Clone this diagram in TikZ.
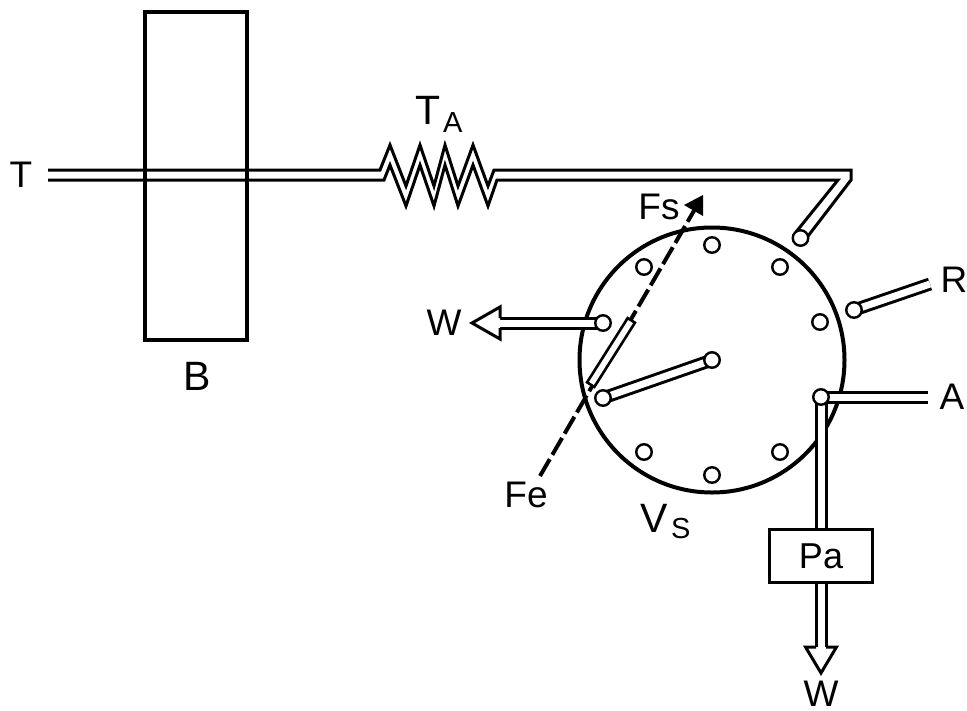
\documentclass[tikz,border=0pt]{standalone}
\usepackage{fontspec}
\setmainfont{Liberation Sans}
\pgfdeclarelayer{under}
\pgfsetlayers{under,main}
\tikzset{
  x=1pt,y=-1pt,
  wall/.style={line width=3pt,line join=miter},
  tube/.style={line width=3pt,double=white,double distance=7pt,line cap=butt},
  head/.style={line width=3pt,fill=white,line join=miter},
  port/.style={circle,draw,fill=white,line width=2.4pt,minimum size=15.5pt,inner sep=0pt},
  lbl/.style={font=\fontsize{37}{37}\selectfont,inner sep=0pt},
  big/.style={font=\fontsize{41}{41}\selectfont,inner sep=0pt},
  subs/.style={font=\fontsize{29}{29}\selectfont,inner sep=0pt},
}
\begin{document}
\begin{tikzpicture}
\useasboundingbox (0,0) rectangle (967,710);
% ports
\node[port] (p1) at (712,245) {};
\node[port] (p2) at (644,267) {};
\node[port] (p3) at (780,267) {};
\node[port] (p4) at (820,322) {};
\node[port] (p6) at (780,452) {};
\node[port] (p7) at (712,475) {};
\node[port] (p8) at (644,452) {};
\node[port] (in) at (800.5,238) {};
\node[port] (r) at (854,310) {};
\node[port] (c) at (712,360) {};
\node[port] (s) at (603,398) {};
\node[port] (w) at (603,323) {};
\node[port] (a) at (821,397) {};
% coordinates
\coordinate (Tu) at (48,170);
\coordinate (Tl) at (48,180);
\coordinate (cu) at (851,170);
\coordinate (cr) at (851,180);
\coordinate (cl) at (838,180);
\coordinate (eu) at (805,240);
\coordinate (el) at (796,232);
\coordinate (Rend) at (930,284);
\coordinate (Aend) at (928,397);
\coordinate (Wa) at (500,323);
\coordinate (Wb) at (821,648);
\coordinate (Fe0) at (540,476);
\coordinate (Fs0) at (695,209);
% Pa and slide
\node[draw,fill=white,line width=3pt,minimum width=103pt,minimum height=53pt,inner sep=0pt,font=\fontsize{36}{36}\selectfont] (Pa) at (821,556) {Pa};
\node[draw,fill=white,line width=2.6pt,rotate=57.7,minimum width=76pt,minimum height=8.6pt,inner sep=0pt] (slide) at (611,352.5) {};
% arrowheads
\fill (703,195) -- (684,205) -- (703,216) -- cycle;
\draw[head] (500,318) -- (500,307) -- (472,323) -- (500,339) -- (500,328);
\draw[head] (816,647) -- (805.5,647) -- (821,673) -- (836.5,647) -- (826,647);
% things lying under the nodes
\begin{pgfonlayer}{under}
\node[circle,draw,line width=4pt,minimum size=265pt,inner sep=0pt] (wheel) at (712,360) {};
\node[draw,line width=4pt,minimum width=102pt,minimum height=328pt,inner sep=0pt] (B) at (196,175.5) {};
\draw[wall] (Tu) -- (380,170) -- (390,145) -- (406,186) -- (420,145) -- (434,186) -- (445,145) -- (458,186) -- (473,145) -- (488,186) -- (494,170) -- (cu) -- (cr) -- (eu);
\draw[wall] (Tl) -- (384,180) -- (390,165) -- (406,206) -- (420,165) -- (434,206) -- (445,165) -- (458,206) -- (473,165) -- (488,206) -- (497,180) -- (cl) -- (el);
\draw[line width=4pt,dash pattern=on 19.5pt off 5pt] (Fe0) -- (Fs0);
\draw[tube] (r.center) -- (Rend);
\draw[tube] (s.center) -- (c.center);
\draw[tube] (w.center) -- (Wa);
\draw[tube] (a.center) -- (Aend);
\draw[tube] (a.center) -- (Pa.north);
\draw[tube] (Pa.south) -- (Wb);
\end{pgfonlayer}
% labels
\node[lbl] (tT) at (21,175) {T};
\node[big] (tB) at (197,376) {B};
\node[big,anchor=base west] (tTA) at (415,124) {T};
\node[subs,anchor=base west] (tTAs) at (443,132) {A};
\node[lbl] (tFs) at (659,207) {Fs};
\node[lbl] (tFe) at (526,495) {Fe};
\node[lbl] (tW1) at (444,323) {W};
\node[lbl] (tW2) at (821,694) {W};
\node[lbl] (tR) at (954,280) {R};
\node[lbl] (tA) at (952,397) {A};
\node[big,anchor=base west] (tVs) at (640,532) {V};
\node[subs,anchor=base west] (tVss) at (671,538) {S};
\end{tikzpicture}
\end{document}
